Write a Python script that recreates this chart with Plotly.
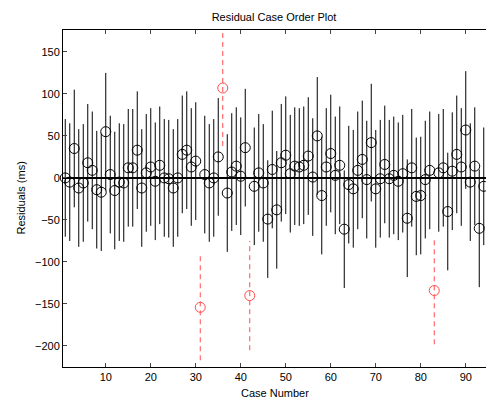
import plotly.graph_objects as go

# Case numbers and residuals (ms)
cases = list(range(1, 95))
residuals = [
    0, -5, 35, -12, -6, 18, 9, -14, -17, 55,
    4, -15, -5, -6, 12, 12, 33, -12, 6, 13,
    -4, 15, 0, -1, -12, 0, 28, 33, 13, 20,
    -154, 4, -6, 0, 25, 107, -18, 7, 14, 2,
    36, -140, -10, 6, -6, -49, 10, -38, 18, 27,
    5, 14, 13, 15, 26, 1, 50, -21, 13, 29,
    3, 15, -61, -8, -13, 9, 22, -2, 42, -13,
    -1, 16, -1, 3, -4, 5, -48, 12, -22, -21,
    -2, 9, -134, 6, 12, -40, 8, 28, 13, 57,
    -5, 14, -60, -10,
]
# Half-length of each confidence interval (ms)
half_width = [70] * 94
half_width[30] = 63
half_width[35] = 69
half_width[41] = 65
half_width[82] = 64
# Outlier cases (interval does not contain zero)
outliers = [31, 36, 42, 83]

x_ticks = [10, 20, 30, 40, 50, 60, 70, 80, 90]
y_ticks = [-200, -150, -100, -50, 0, 50, 100, 150]

RED = "#FF4D4D"

bx, by, rx, ry = [], [], [], []
for c, r, h in zip(cases, residuals, half_width):
    if c in outliers:
        rx += [c, c, None]
        ry += [r - h, r + h, None]
    else:
        bx += [c, c, None]
        by += [r - h, r + h, None]

fig = go.Figure()
fig.add_trace(go.Scatter(x=bx, y=by, mode="lines",
                         line=dict(color="black", width=1), hoverinfo="skip"))
fig.add_trace(go.Scatter(x=rx, y=ry, mode="lines",
                         line=dict(color=RED, width=1, dash="5px,4px"), hoverinfo="skip"))
fig.add_trace(go.Scatter(x=[0.5, 95], y=[0, 0], mode="lines",
                         line=dict(color="black", width=2), hoverinfo="skip"))
nx = [c for c in cases if c not in outliers]
ny = [r for c, r in zip(cases, residuals) if c not in outliers]
ox = [c for c in cases if c in outliers]
oy = [r for c, r in zip(cases, residuals) if c in outliers]
fig.add_trace(go.Scatter(x=nx, y=ny, mode="markers", cliponaxis=False,
                         marker=dict(symbol="circle-open", size=10,
                                     line=dict(color="black", width=1), color="black")))
fig.add_trace(go.Scatter(x=ox, y=oy, mode="markers", cliponaxis=False,
                         marker=dict(symbol="circle-open", size=10,
                                     line=dict(color=RED, width=1), color=RED)))

font = dict(family="Liberation Sans, Arial, sans-serif", size=11, color="black")
fig.update_layout(
    width=486, height=402,
    margin=dict(l=63, r=0, t=30, b=35),
    paper_bgcolor="white", plot_bgcolor="white",
    showlegend=False,
    font=font,
    title=dict(text="Residual Case Order Plot", x=(274 / 486), xanchor="center",
               y=1 - 17 / 402, yanchor="middle", yref="container",
               font=dict(family="Liberation Sans, Arial, sans-serif", size=11, color="black")),
    xaxis=dict(range=[0.5, 94.5], tickvals=x_ticks, ticks="inside", ticklen=4,
               showline=True, linecolor="black", linewidth=1, mirror="ticks",
               showgrid=False, zeroline=False, tickfont=font),
    yaxis=dict(range=[-225, 176], tickvals=y_ticks, ticks="inside", ticklen=4,
               showline=True, linecolor="black", linewidth=1, mirror=False,
               showgrid=False, zeroline=False, tickfont=font),
    annotations=[
        dict(text="Case Number", xref="paper", yref="paper", x=0.5, y=(367 - 393) / 337,
             xanchor="center", yanchor="middle", showarrow=False, font=font),
        dict(text="Residuals (ms)", xref="paper", yref="paper", x=(20 - 63) / 423, y=0.5,
             xanchor="center", yanchor="middle", textangle=-90, showarrow=False, font=font),
    ],
)
fig.write_html(
    "out.html",
    config={"displayModeBar": False},
    post_script="document.body.style.margin='0';document.body.style.overflow='hidden';",
)
